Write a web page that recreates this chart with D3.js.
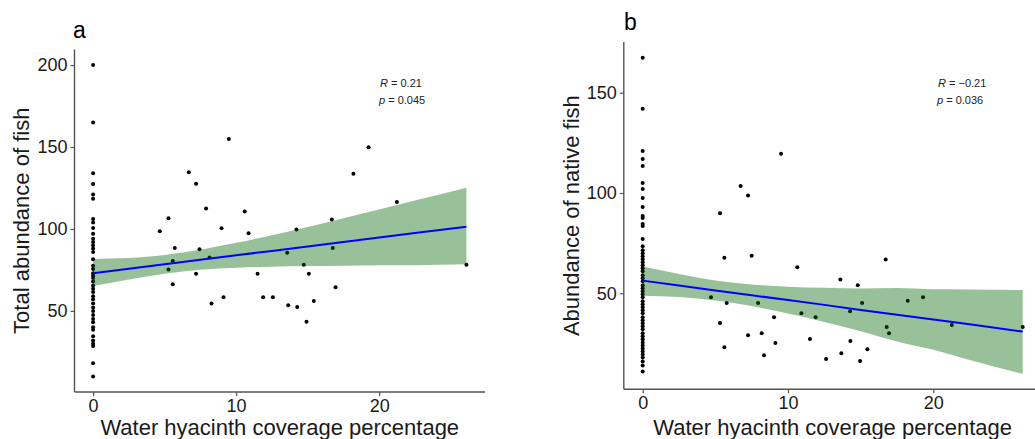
<!DOCTYPE html>
<html>
<head>
<meta charset="utf-8">
<script src="https://cdn.jsdelivr.net/npm/d3@7"></script>
<style>
  body { margin: 0; background: #fff; }
  svg text { font-family: "Liberation Sans", Arial, sans-serif; }
</style>
</head>
<body>
<svg id="chart" width="1035" height="439"></svg>
<script>
// ---- data ----
// panel a: total abundance of fish
var zeroSitesA = [200, 165, 134, 127.5, 121, 118.5, 106, 104, 100.5, 97, 94, 92, 90, 88, 86, 81.5,
  77.5, 75.5, 73, 71.5, 70, 68, 65.5, 63.5, 61.5, 59, 57, 54.5, 52, 50, 47.5, 45, 43, 40, 38.5,
  34.5, 32, 30, 28.5, 18, 10];
var coverA = [9.49, 6.69, 7.2, 7.9, 5.27, 4.66, 8.98, 10.6, 10.87, 5.71, 7.44, 5.57, 8.14, 5.27,
  7.2, 5.57, 8.28, 9.12, 11.5, 11.89, 12.57, 13.57, 14.22, 14.73, 15.08, 13.64, 14.27, 14.92,
  15.43, 16.69, 16.76, 16.95, 18.2, 19.26, 21.24, 26.1];
var totalA = [154.9, 134.6, 127.6, 112.4, 106.5, 98.6, 100.4, 110.6, 97.4, 88.4, 87.6, 80.5, 82.5,
  75.2, 72.6, 66.3, 54.5, 58.3, 72.6, 58.3, 58.3, 85.4, 99.6, 78.2, 72.6, 53.5, 52.3, 43.3,
  56.1, 105.7, 88.4, 64.4, 133.7, 149.8, 116.5, 78.2];
var fitXA = [0, 2.5, 5, 7.5, 10, 12.5, 15, 17.5, 20, 22.5, 26.1];
var fitYA = [73.0, 75.7, 78.4, 81.2, 83.9, 86.6, 89.3, 92.0, 94.8, 97.5, 101.4];
var lowA  = [65.2, 69.2, 72.7, 75.1, 76.3, 77.0, 77.4, 77.6, 77.8, 77.9, 78.5];
var highA = [81.7, 82.2, 84.1, 87.3, 91.5, 96.2, 101.2, 106.6, 111.8, 117.3, 125.2];

// panel b: native fish
var zeroSitesB = [167.5, 142, 121, 117, 113.5, 105, 102, 97.5, 93, 88.5, 87.5, 84.5, 83.5, 77, 73.5,
  71.5, 70, 68.5, 67, 65.5, 64, 62.5, 61, 59, 57.5, 56, 54, 52.5, 51, 49.5, 48, 46, 44.5, 43,
  41.5, 40, 38, 36.5, 35, 33.5, 32, 30, 28.5, 27, 25.5, 24, 22.5, 21, 19.5, 18, 16, 14, 11];
var coverB = [9.52, 6.74, 7.25, 5.32, 5.62, 7.5, 10.64, 13.6, 14.8, 16.72, 4.7, 5.78, 7.94, 10.92,
  11.9, 9.04, 14.27, 15.1, 18.24, 19.29, 21.27, 26.15, 16.79, 16.95, 5.32, 7.25, 8.19, 9.13,
  11.51, 5.62, 8.35, 12.62, 13.67, 14.29, 14.96, 15.46];
var nativeB = [119.6, 103.5, 98.7, 89.9, 67.7, 68.7, 63.0, 56.8, 54.0, 66.8, 48.0, 45.2, 45.2, 40.0,
  38.0, 38.0, 41.0, 45.2, 46.2, 48.0, 34.2, 33.2, 33.2, 30.0, 35.2, 29.1, 30.0, 25.2, 27.2,
  23.1, 19.1, 17.2, 20.1, 26.2, 16.2, 22.1];
var fitXB = [0, 2.5, 5, 7.5, 10, 12.5, 15, 17.5, 20, 22.5, 26.15];
var fitYB = [56.3, 53.9, 51.4, 49.0, 46.6, 44.2, 41.7, 39.3, 36.9, 34.5, 30.9];
var lowB  = [48.8, 48.1, 46.4, 43.6, 39.9, 35.7, 31.1, 26.0, 21.8, 16.7, 9.8];
var highB = [63.3, 59.6, 56.4, 54.4, 53.3, 52.7, 52.4, 52.6, 52.0, 51.9, 51.6];

var xTicks = [0, 10, 20];
var yTicksA = [50, 100, 150, 200];
var yTicksB = [50, 100, 150];
var xTitle = "Water hyacinth coverage percentage";

var svg = d3.select("#chart");

function panel(o) {
  var x = d3.scaleLinear().domain(o.xDomain).range(o.xRange);
  var y = d3.scaleLinear().domain(o.yDomain).range(o.yRange);
  var g = svg.append("g");

  // points (zero coverage column + the rest)
  var pts = o.zeros.map(function (v) { return [0, v]; })
    .concat(o.cx.map(function (v, i) { return [v, o.cy[i]]; }));
  g.selectAll("circle").data(pts).enter().append("circle")
    .attr("cx", function (d) { return x(d[0]); })
    .attr("cy", function (d) { return y(d[1]); })
    .attr("r", 2)
    .attr("fill", "#000");

  // confidence band
  var band = o.fx.map(function (v, i) { return { x: v, lo: o.lo[i], hi: o.hi[i], f: o.fy[i] }; });
  g.append("path").datum(band)
    .attr("d", d3.area().curve(d3.curveMonotoneX)
      .x(function (d) { return x(d.x); })
      .y0(function (d) { return y(d.lo); })
      .y1(function (d) { return y(d.hi); }))
    .attr("fill", "darkgreen")
    .attr("fill-opacity", 0.4);

  g.append("path").datum(band)
    .attr("d", d3.line().x(function (d) { return x(d.x); }).y(function (d) { return y(d.f); }))
    .attr("fill", "none")
    .attr("stroke", "#0000ff")
    .attr("stroke-width", 2);

  // axes
  var ax = g.append("g").attr("transform", "translate(0," + o.yRange[0] + ")")
    .call(d3.axisBottom(x).tickValues(xTicks).tickSize(4).tickPadding(3));
  var ay = g.append("g").attr("transform", "translate(" + o.xRange[0] + ",0)")
    .call(d3.axisLeft(y).tickValues(o.yTicks).tickSize(4).tickPadding(3));
  [ax, ay].forEach(function (a) {
    a.select(".domain").attr("stroke", "#555").attr("stroke-width", 1.4);
    a.selectAll(".tick line").attr("stroke", "#555").attr("stroke-width", 1.2);
    a.selectAll(".tick text").attr("fill", "#1a1a1a").style("font-size", "18px");
  });
  ay.select(".domain").attr("d", "M0," + o.yRange[0] + "V" + o.yRange[1]);
  ax.select(".domain").attr("d", "M" + o.xRange[0] + ",0H" + o.xRange[1]);

  // titles
  g.append("text")
    .attr("x", (o.xRange[0] + o.xRange[1]) / 2).attr("y", 435)
    .attr("text-anchor", "middle").style("font-size", "22px").attr("fill", "#1a1a1a")
    .text(xTitle);
  g.append("text")
    .attr("transform", "translate(" + o.yTitleX + "," + (o.yRange[0] + o.yRange[1]) / 2 + ") rotate(-90)")
    .attr("text-anchor", "middle").style("font-size", "22px").attr("fill", "#1a1a1a")
    .text(o.yTitle);
  g.append("text")
    .attr("x", o.tagX).attr("y", o.tagY).style("font-size", "23px").attr("fill", "#000")
    .text(o.tag);

  // correlation label
  var t1 = g.append("text").attr("x", o.corX).attr("y", 86.5).style("font-size", "11px").attr("fill", "#222");
  t1.append("tspan").attr("font-style", "italic").text("R");
  t1.append("tspan").text(" = " + o.r);
  var t2 = g.append("text").attr("x", o.corX - 1).attr("y", 104).style("font-size", "11px").attr("fill", "#222");
  t2.append("tspan").attr("font-style", "italic").text("p");
  t2.append("tspan").text(" = " + o.p);
}

panel({
  xDomain: [-1.3, 27.4], xRange: [74.5, 485],
  yDomain: [0.5, 209.5], yRange: [392, 49.5],
  zeros: zeroSitesA, cx: coverA, cy: totalA,
  fx: fitXA, fy: fitYA, lo: lowA, hi: highA,
  yTicks: yTicksA, yTitle: "Total abundance of fish", yTitleX: 29,
  tag: "a", tagX: 73, tagY: 38,
  corX: 380, r: "0.21", p: "0.045"
});

panel({
  xDomain: [-1.3, 27.45], xRange: [623.8, 1041.6],
  yDomain: [2.1, 175.3], yRange: [389.3, 42],
  zeros: zeroSitesB, cx: coverB, cy: nativeB,
  fx: fitXB, fy: fitYB, lo: lowB, hi: highB,
  yTicks: yTicksB, yTitle: "Abundance of native fish", yTitleX: 579,
  tag: "b", tagX: 624, tagY: 30,
  corX: 938, r: "\u22120.21", p: "0.036"
});
</script>
</body>
</html>
